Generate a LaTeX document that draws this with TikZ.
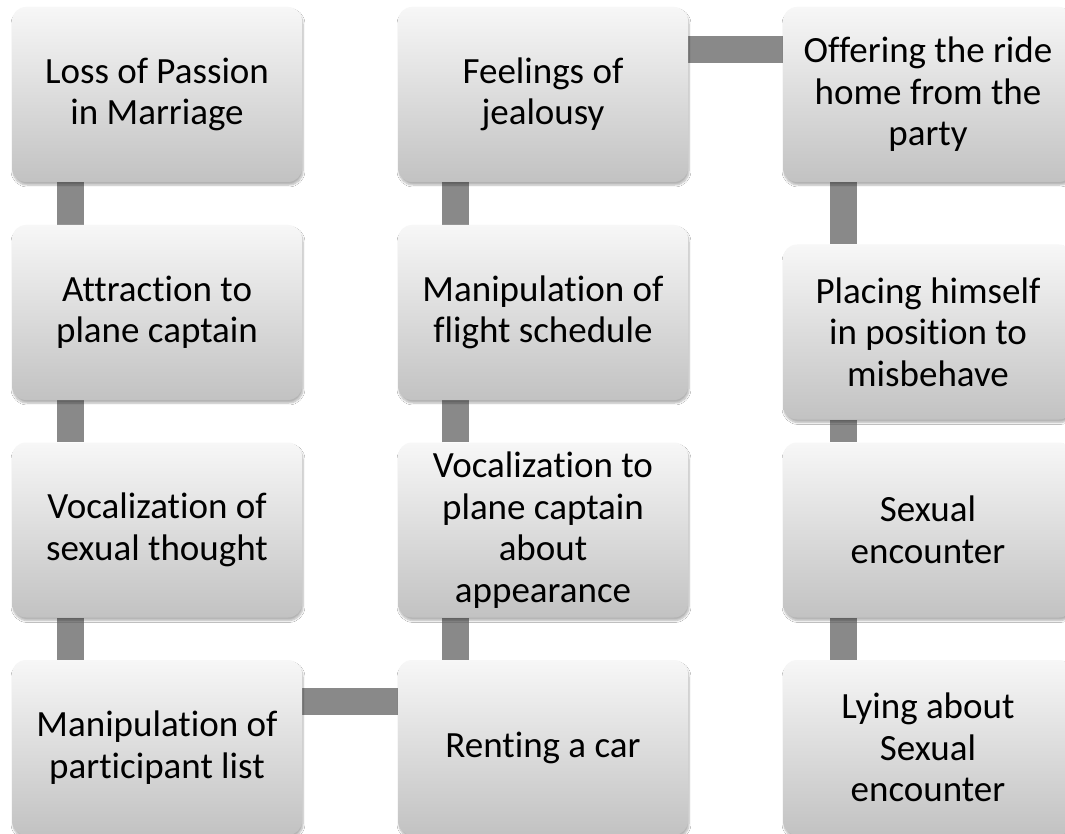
\documentclass[tikz,border=0pt]{standalone}
\usepackage{fontspec}
\setmainfont{Carlito}[Ligatures=NoCommon]
\usetikzlibrary{calc,shadows.blur}
\pgfdeclarelayer{background}
\pgfsetlayers{background,main}
\definecolor{boxtop}{HTML}{F7F7F7}
\definecolor{boxbot}{HTML}{C2C2C2}
\definecolor{connc}{HTML}{898989}
\tikzset{
  stepbox/.style={rectangle, rounded corners=14pt, minimum width=290pt, minimum height=175pt,
    inner sep=0pt, align=center, top color=boxtop, bottom color=boxbot, draw=none,
    font=\fontsize{37}{41.5}\selectfont,
    blur shadow={shadow xshift=1pt, shadow yshift=-3pt, shadow blur steps=6, shadow opacity=30}},
  conn/.style={draw=connc, line width=27pt, line cap=butt}
}
\begin{document}
\begin{tikzpicture}[x=1pt,y=-1pt]
\useasboundingbox (0,0) rectangle (1065,834);
\clip (0,0) rectangle (1065,834);
% column 1
\node[stepbox] (a1) at (157,94.5) {Loss of Passion\\in Marriage};
\node[stepbox] (a2) at (157,312.5) {Attraction to\\plane captain};
\node[stepbox] (a3) at (157,530) {Vocalization of\\sexual thought};
\node[stepbox] (a4) at (157,747.5) {Manipulation of\\participant list};
% column 2
\node[stepbox] (b1) at (543,94.5) {Feelings of\\jealousy};
\node[stepbox] (b2) at (543,312.5) {Manipulation of\\flight schedule};
\node[stepbox] (b3) at (543,530) {Vocalization to\\plane captain\\about\\appearance};
\node[stepbox] (b4) at (543,747.5) {Renting a car};
% column 3
\node[stepbox] (c1) at (928,94.5) {Offering the ride\\home from the\\party};
\node[stepbox] (c2) at (928,332) {Placing himself\\in position to\\misbehave};
\node[stepbox] (c3) at (928,530) {Sexual\\encounter};
\node[stepbox] (c4) at (928,747.5) {Lying about\\Sexual\\encounter};
\begin{pgfonlayer}{background}
\fill[white] (0,0) rectangle (1065,834);
\draw[conn] ($(a1.south west)+(59,0)$) -- ($(a2.north west)+(59,0)$);
\draw[conn] ($(a2.south west)+(59,0)$) -- ($(a3.north west)+(59,0)$);
\draw[conn] ($(a3.south west)+(59,0)$) -- ($(a4.north west)+(59,0)$);
\draw[conn] ($(a4.north east)+(0,42)$) -- ($(b4.north west)+(0,42)$);
\draw[conn] ($(b4.north west)+(58,0)$) -- ($(b3.south west)+(58,0)$);
\draw[conn] ($(b3.north west)+(58,0)$) -- ($(b2.south west)+(58,0)$);
\draw[conn] ($(b2.north west)+(58,0)$) -- ($(b1.south west)+(58,0)$);
\draw[conn] ($(b1.north east)+(0,43)$) -- ($(c1.north west)+(0,43)$);
\draw[conn] ($(c1.south west)+(61,0)$) -- ($(c2.north west)+(61,0)$);
\draw[conn] ($(c2.south west)+(61,0)$) -- ($(c3.north west)+(61,0)$);
\draw[conn] ($(c3.south west)+(61,0)$) -- ($(c4.north west)+(61,0)$);
\end{pgfonlayer}
\end{tikzpicture}
\end{document}
